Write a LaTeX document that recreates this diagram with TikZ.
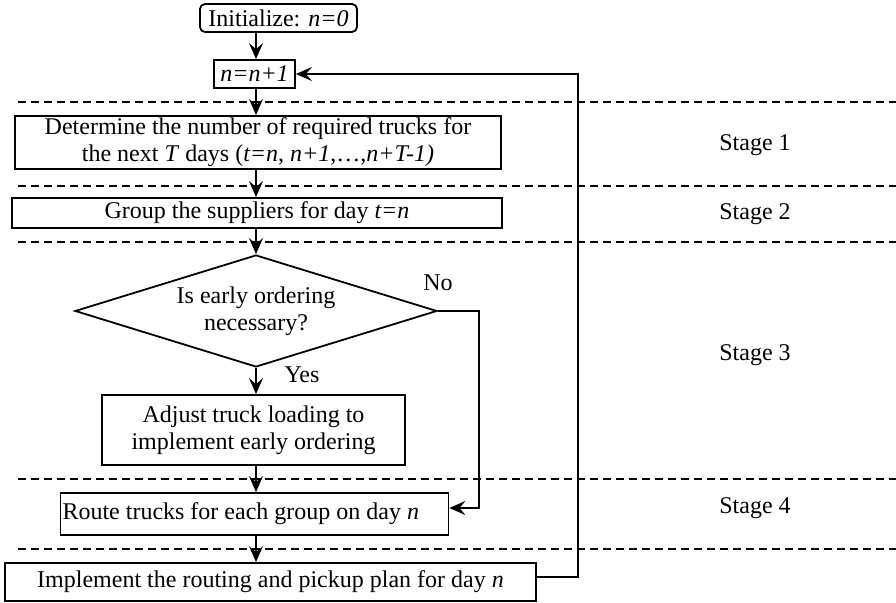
\documentclass[tikz,border=0pt]{standalone}
\usepackage{fontspec}
\setmainfont{Liberation Serif}
\usetikzlibrary{shapes.geometric,arrows.meta}

\begin{document}
\begin{tikzpicture}[x=0.5pt,y=-0.5pt,
        font=\fontsize{12}{13.5}\selectfont,
        box/.style={draw,line width=0.9pt,inner sep=1pt,align=center},
        decision/.style={draw,diamond,shape aspect=3.2,line width=0.9pt,inner sep=0pt,align=center},
        arr/.style={-{Stealth[length=8pt,width=7pt,inset=3pt]},line width=0.9pt},
        stagesep/.style={dash pattern=on 4pt off 2.5pt,line width=0.8pt}]
        \useasboundingbox (0,0) rectangle (896,603);
        % stage borders
        \foreach \y in {102,186,242,479,549}
            \draw[stagesep] (18,\y) -- (896,\y);
        \node at (755,145) {Stage 1};
        \node at (755,214) {Stage 2};
        \node at (755,355) {Stage 3};
        \node at (755,508) {Stage 4};
        % flow chart
        \node[box,rounded corners=2.5pt,minimum width=78.5pt,minimum height=14pt] (init) at (278.5,18) {Initialize: \textit{n=0}};
        \node[box,minimum width=40.5pt,minimum height=14pt] (n) at (254.5,74) {\textit{n=n+1}};
        \node[box,minimum width=243pt,minimum height=26.5pt] (trucks) at (258,142.5) {Determine the number of required trucks for\\the next \textit{T} days (\textit{t=n}, \textit{n+1},\ldots,\textit{n+T-1)}};
        \node[box,minimum width=245pt,minimum height=15pt] (group) at (257,213) {Group the suppliers for day \textit{t=n}};
        \node[decision,minimum width=181pt,minimum height=56pt] (early) at (256,311) {Is early ordering\\necessary?};
        \node[box,minimum width=151.5pt,minimum height=35pt] (adjust) at (253.5,430) {Adjust truck loading to\\implement early ordering};
        \node[box,text width=192pt,align=flush left,minimum height=21pt] (route) at (254.5,514) {Route trucks for each group on day \textit{n}};
        \node[box,minimum width=265.5pt,minimum height=19pt] (impl) at (270.5,582) {Implement the routing and pickup plan for day \textit{n}};
        \node (yes) at (302,375) {Yes};
        \node (no) at (438,283) {No};
        \coordinate (sp) at (256,0);
        \coordinate (nox) at (479,0);
        \coordinate (fbx) at (578,0);
        \draw[arr] (init.south -| sp) -- (n.north -| sp);
        \draw[arr] (n.south -| sp) -- (trucks.north -| sp);
        \draw[arr] (trucks.south -| sp) -- (group.north -| sp);
        \draw[arr] (group.south -| sp) -- (early.north);
        \draw[arr] (early.south) -- (adjust.north -| sp);
        \draw[arr] (adjust.south -| sp) -- (route.north -| sp);
        \draw[arr] (route.south -| sp) -- (impl.north -| sp);
        \draw[arr] (early.east) -- (early.east -| nox) |- ([yshift=3pt]route.east);
        \draw[arr] ([yshift=2.5pt]impl.east) -| (fbx |- n.east) -- (n.east);
\end{tikzpicture}
\end{document}
